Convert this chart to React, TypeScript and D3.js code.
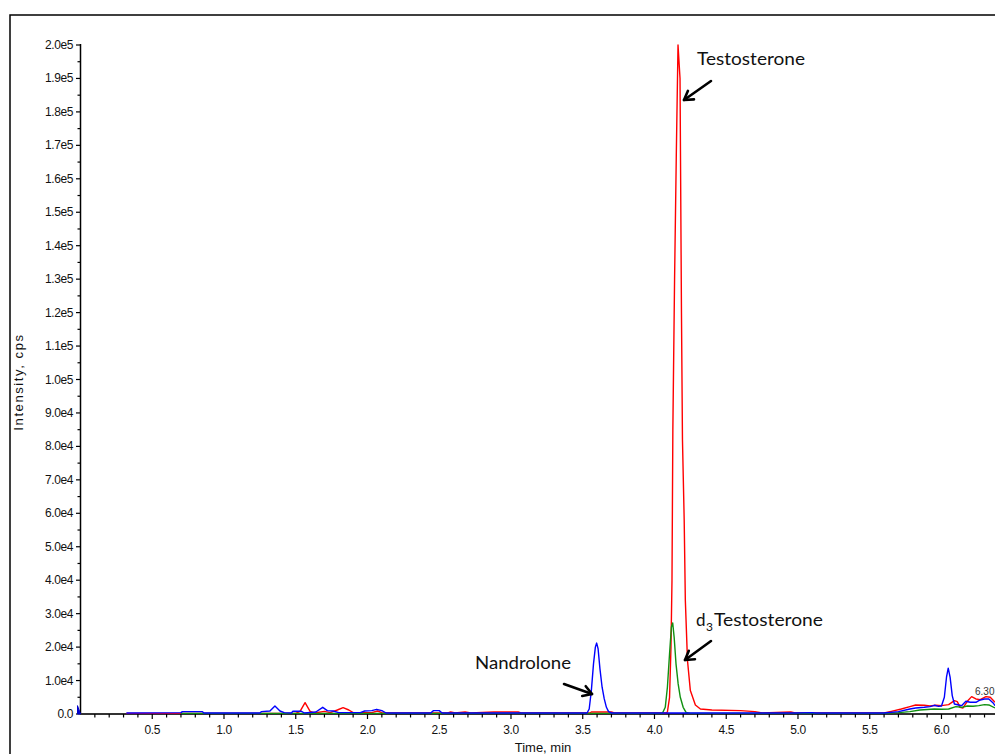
import React from "react";
import * as d3 from "d3";

// ---- Data ----
const redTimes = [0.32, 1.5, 1.53, 1.565, 1.6, 1.63, 1.7, 1.74, 1.79, 1.83, 1.87, 1.9, 2.03, 2.07, 2.1, 2.56, 2.58, 2.61, 2.68, 2.72, 2.88, 3.05, 3.07, 3.55, 3.56, 3.7, 3.72, 4.08, 4.09, 4.105, 4.115, 4.122, 4.128, 4.14, 4.152, 4.164, 4.178, 4.188, 4.195, 4.207, 4.215, 4.23, 4.25, 4.285, 4.32, 4.4, 4.6, 4.7, 4.75, 4.95, 4.98, 5.6, 5.65, 5.72, 5.78, 5.82, 5.88, 5.92, 5.96, 6.0, 6.05, 6.09, 6.11, 6.13, 6.15, 6.18, 6.21, 6.24, 6.27, 6.31, 6.34, 6.373];
const redValues = [200, 200, 800, 3400, 800, 300, 800, 400, 1200, 1900, 1200, 400, 400, 900, 400, 300, 600, 300, 600, 300, 600, 600, 300, 300, 600, 600, 300, 300, 600, 5000, 20000, 40000, 85000, 130000, 167000, 200000, 190000, 120000, 82000, 58000, 34000, 16000, 7000, 2700, 1500, 1200, 1000, 700, 300, 600, 300, 300, 800, 1500, 2200, 2700, 2600, 2400, 2600, 2500, 2800, 4000, 3700, 2000, 1800, 3800, 5200, 4500, 4300, 5200, 5000, 3500];

const greenTimes = [0.7, 2.15, 4.055, 4.075, 4.09, 4.105, 4.118, 4.127, 4.137, 4.15, 4.165, 4.18, 4.2, 4.22, 4.25, 5.6, 5.7, 5.78, 5.85, 5.95, 6.0, 6.05, 6.1, 6.14, 6.18, 6.22, 6.26, 6.3, 6.33, 6.373];
const greenValues = [200, 200, 200, 2000, 8000, 18000, 26000, 27200, 23000, 15000, 9000, 5000, 2000, 500, 200, 200, 400, 700, 1200, 1500, 1400, 1500, 2200, 2000, 2400, 2300, 2500, 2800, 2700, 1800];

const blueTimes = [0.32, 0.7, 0.71, 0.85, 0.86, 1.25, 1.26, 1.32, 1.355, 1.39, 1.42, 1.47, 1.48, 1.54, 1.56, 1.64, 1.688, 1.72, 1.76, 1.8, 1.95, 1.98, 2.03, 2.064, 2.1, 2.13, 2.44, 2.46, 2.5, 2.52, 3.53, 3.545, 3.56, 3.575, 3.588, 3.597, 3.607, 3.62, 3.635, 3.65, 3.665, 3.68, 3.7, 4.98, 5.1, 5.12, 5.6, 5.7, 5.78, 5.82, 5.88, 5.92, 5.95, 5.98, 6.0, 6.02, 6.035, 6.047, 6.06, 6.075, 6.09, 6.12, 6.14, 6.17, 6.2, 6.24, 6.27, 6.3, 6.33, 6.36, 6.373];
const blueValues = [300, 400, 700, 700, 300, 300, 700, 900, 2400, 900, 400, 300, 800, 800, 300, 600, 2000, 1000, 900, 400, 400, 900, 1000, 1400, 1000, 300, 300, 1000, 1000, 300, 300, 1500, 7000, 15000, 20000, 21200, 19500, 13500, 8000, 4500, 2000, 700, 300, 300, 400, 300, 300, 700, 1500, 1800, 2000, 2200, 2600, 2300, 2400, 5000, 11000, 13700, 11000, 5500, 3000, 2700, 2500, 3800, 3500, 3500, 4200, 4500, 4500, 3300, 2500];

const xTickValues = [0.5, 1.0, 1.5, 2.0, 2.5, 3.0, 3.5, 4.0, 4.5, 5.0, 5.5, 6.0];
const yTickValues = [0, 10000, 20000, 30000, 40000, 50000, 60000, 70000, 80000, 90000, 100000, 110000, 120000, 130000, 140000, 150000, 160000, 170000, 180000, 190000, 200000];

const yFmt = (v: number) =>
  v === 0 ? "0.0" : v < 100000 ? (v / 10000).toFixed(1) + "e4" : (v / 100000).toFixed(1) + "e5";

export default function App() {
  const W = 995, H = 754;
  const x = d3.scaleLinear().domain([0, 6.373]).range([80.5, 995]);
  const y = d3.scaleLinear().domain([0, 200000]).range([714, 45]);
  const mk = (ts: number[], vs: number[]) =>
    d3.line<number>().x((_, i) => x(ts[i])).y((v) => y(v))(vs) || "";

  const minorX = d3.range(1, 64).map((i) => i / 10);
  const minorY = d3.range(0, 41).map((i) => i * 5000);

  const arrow = (x1: number, y1: number, x2: number, y2: number) => {
    const a = Math.atan2(y2 - y1, x2 - x1);
    const L = 10, s = 0.55;
    const p1 = [x2 - L * Math.cos(a - s), y2 - L * Math.sin(a - s)];
    const p2 = [x2 - L * Math.cos(a + s), y2 - L * Math.sin(a + s)];
    return (
      <g stroke="#000" strokeWidth={2.6} fill="none" strokeLinecap="round" strokeLinejoin="round">
        <line x1={x1} y1={y1} x2={x2} y2={y2} />
        <polyline points={`${p1[0]},${p1[1]} ${x2},${y2} ${p2[0]},${p2[1]}`} />
      </g>
    );
  };

  const tickFont = "'Liberation Sans', Arial, sans-serif";
  const annFont = "Lato, 'Open Sans', sans-serif";

  return (
    <svg width={W} height={H} style={{ position: "absolute", left: 0, top: 0, background: "#fff" }}>
      <rect x={0} y={0} width={W} height={H} fill="#fff" />
      <rect x={10} y={15} width={1100} height={900} fill="none" stroke="#000" strokeWidth={1.5} />
      <defs>
        <clipPath id="plot">
          <rect x={80} y={43} width={920} height={674} />
        </clipPath>
      </defs>
      {/* y axis */}
      <line x1={80.5} y1={44} x2={80.5} y2={714} stroke="#000" strokeWidth={1.5} />
      {minorY.map((v) => (
        <line key={"my" + v} x1={v % 10000 === 0 ? 76 : 77.5} x2={80.5} y1={y(v)} y2={y(v)} stroke="#000" strokeWidth={1.2} />
      ))}
      {yTickValues.map((v) => (
        <text key={"yt" + v} x={73} y={y(v) + 4} textAnchor="end" fontFamily={tickFont} fontSize={12} letterSpacing={-0.4} fill="#111">
          {yFmt(v)}
        </text>
      ))}
      {/* x axis */}
      <line x1={80} y1={714} x2={995} y2={714} stroke="#333" strokeWidth={2} />
      {minorX.map((t) => (
        <line key={"mx" + t} x1={x(t)} x2={x(t)} y1={714} y2={Math.abs(t * 2 - Math.round(t * 2)) < 1e-6 ? 719 : 717.5} stroke="#000" strokeWidth={1.2} />
      ))}
      {xTickValues.map((t) => (
        <text key={"xt" + t} x={x(t)} y={734} textAnchor="middle" fontFamily={tickFont} fontSize={12} letterSpacing={-0.4} fill="#111">
          {t.toFixed(1)}
        </text>
      ))}
      <text x={543} y={752} textAnchor="middle" fontFamily={tickFont} fontSize={13} fill="#111">Time, min</text>
      <text transform="translate(23,382) rotate(-90)" textAnchor="middle" fontFamily={tickFont} fontSize={13} letterSpacing={1.6} fill="#111">
        Intensity, cps
      </text>
      {/* traces */}
      <g clipPath="url(#plot)" fill="none" strokeWidth={1.4} strokeLinejoin="round">
        <path d={mk(redTimes, redValues)} stroke="#ff0000" />
        <path d={mk(greenTimes, greenValues)} stroke="#109010" />
        <path d={mk(blueTimes, blueValues)} stroke="#0000ff" />
      </g>
      <path d={`M${x(0) - 3},${y(2500)} L${x(0)},${y(0)} L${x(0) - 3},${y(0)} Z`} fill="#0000cc" stroke="#0000cc" strokeWidth={1} />
      <text x={975} y={695} fontFamily={tickFont} fontSize={10} fill="#333">6.30</text>
      {/* annotations */}
      <text x={697} y={65} fontFamily={annFont} fontSize={17} textLength={108} lengthAdjust="spacingAndGlyphs" fill="#111">Testosterone</text>
      <text x={475} y={669} fontFamily={annFont} fontSize={17} textLength={96} lengthAdjust="spacingAndGlyphs" fill="#111">Nandrolone</text>
      <text x={696} y={626} fontFamily={annFont} fontSize={17} fill="#111">d</text>
      <text x={706} y={631} fontFamily={annFont} fontSize={12} fill="#111">3</text>
      <text x={714} y={626} fontFamily={annFont} fontSize={17} textLength={109} lengthAdjust="spacingAndGlyphs" fill="#111">Testosterone</text>
      {arrow(711, 81, 684, 100)}
      {arrow(564, 684, 592, 694)}
      {arrow(711, 641, 685, 660)}
    </svg>
  );
}
